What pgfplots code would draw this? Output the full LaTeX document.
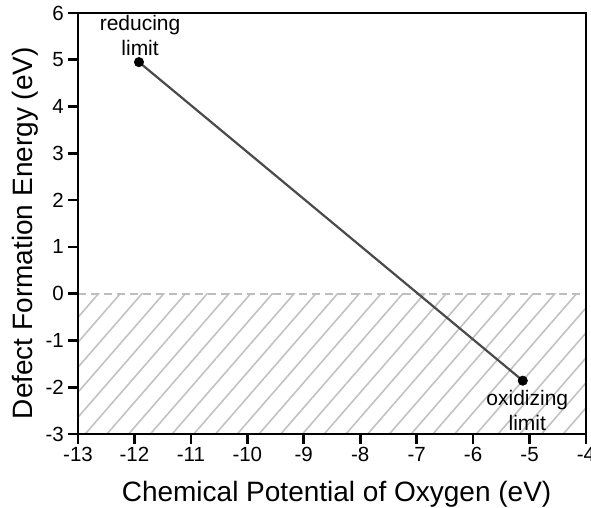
\documentclass[border=0pt]{standalone}
\usepackage{fontspec}
\setmainfont{Liberation Sans}
\usepackage{pgfplots}
\pgfplotsset{compat=1.18}
\usetikzlibrary{patterns.meta}

\definecolor{hatchgray}{HTML}{C2C2C2}
\definecolor{dashgray}{HTML}{BEBEBE}
\definecolor{linegray}{HTML}{4A4A4A}

\begin{document}
\begin{tikzpicture}[x=1pt,y=1pt]
\begin{axis}[
  at={(0,0)}, anchor=south west,
  width=508pt, height=421pt, scale only axis,
  xmin=-13, xmax=-4, ymin=-3, ymax=6,
  xtick={-13,-12,...,-4}, ytick={-3,-2,...,6},
  xtick pos=left, ytick pos=left,
  tick align=outside, major tick length=10pt,
  axis line style={line width=2.6pt, black},
  tick style={line width=2.6pt, black},
  /pgf/number format/assume math mode=true,
  ticklabel style={font=\fontsize{20.5}{24}\selectfont},
  xticklabel style={inner sep=3pt},
  yticklabel style={inner sep=4pt},
  xlabel={Chemical Potential of Oxygen (eV)},
  ylabel={Defect Formation Energy (eV)},
  xlabel style={font=\fontsize{28}{32}\selectfont,
    at={(axis description cs:0.509,-0.1615)}, anchor=base},
  ylabel style={font=\fontsize{28}{32}\selectfont,
    at={(axis description cs:-0.0886,0.477)}, anchor=base},
  axis on top,
  clip=false,
]
% unstable region below zero formation energy
\addplot[draw=none, pattern={Lines[angle=49, distance=16.4pt, line width=1.6pt]},
  pattern color=hatchgray] coordinates {(-13,-3) (-4,-3) (-4,0) (-13,0)} -- cycle;
\addplot[dashgray, line width=1.8pt, dash pattern=on 8pt off 5pt]
  coordinates {(-13,0) (-4,0)};
% formation energy between the two chemical-potential limits
\addplot[linegray, line width=2.2pt, mark=*, mark size=4.7pt,
  mark options={fill=black, draw=black, line width=0.6pt}]
  coordinates {(-11.92,4.95) (-5.12,-1.86)};
\node[font=\fontsize{21}{25}\selectfont, align=center, anchor=south, inner sep=0pt]
  at (axis cs:-11.9,5.08) {reducing\\limit};
\node[font=\fontsize{21}{25}\selectfont, align=center, anchor=north, inner sep=0pt]
  at (axis cs:-5.04,-2.06) {oxidizing\\limit};
\end{axis}
\pgfresetboundingbox
\path (-78,-73) rectangle (513,434);
\end{tikzpicture}
\end{document}
